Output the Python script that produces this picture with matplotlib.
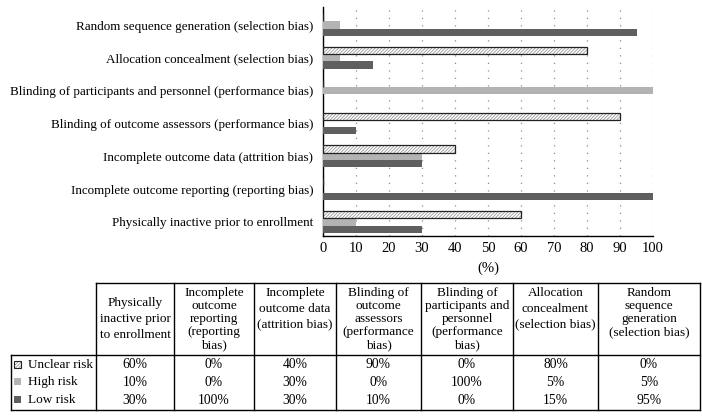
import matplotlib
matplotlib.use("Agg")
import matplotlib.pyplot as plt
from matplotlib.patches import Rectangle
import numpy as np

plt.rcParams['font.family'] = ['Liberation Serif', 'DejaVu Serif']
plt.rcParams['hatch.linewidth'] = 0.6

# ---- data (table order; chart draws bottom-to-top) ----
categories = [
    "Physically inactive prior to enrollment",
    "Incomplete outcome reporting (reporting bias)",
    "Incomplete outcome data (attrition bias)",
    "Blinding of outcome assessors (performance bias)",
    "Blinding of participants and personnel (performance bias)",
    "Allocation concealment (selection bias)",
    "Random sequence generation (selection bias)",
]
table_headers = [
    "Physically\ninactive prior\nto enrollment",
    "Incomplete\noutcome\nreporting\n(reporting\nbias)",
    "Incomplete\noutcome data\n(attrition bias)",
    "Blinding of\noutcome\nassessors\n(performance\nbias)",
    "Blinding of\nparticipants and\npersonnel\n(performance\nbias)",
    "Allocation\nconcealment\n(selection bias)",
    "Random\nsequence\ngeneration\n(selection bias)",
]
series_names = ["Unclear risk", "High risk", "Low risk"]
unclear = [60, 0, 40, 90, 0, 80, 0]
high = [10, 0, 30, 0, 100, 5, 5]
low = [30, 100, 30, 10, 0, 15, 95]
x_ticks = [0, 10, 20, 30, 40, 50, 60, 70, 80, 90, 100]

W, H = 702, 418
fig = plt.figure(figsize=(W / 100, H / 100), dpi=100)

# ---- bar chart ----
ax = fig.add_axes([323 / W, 1 - 236 / H, (653 - 323) / W, (236 - 7) / H])
y = np.arange(len(categories))
h = 0.22
HIGH_C = "#b3b3b3"
LOW_C = "#5f5f5f"
HATCH_C = "#9a9a9a"
ax.barh(y + h, unclear, height=h, color="white", edgecolor=HATCH_C,
        hatch="//////////", linewidth=0, zorder=3)
ax.barh(y + h, unclear, height=h, fill=False, edgecolor="#222222",
        linewidth=0.9, zorder=4)
ax.barh(y, high, height=h, color=HIGH_C, linewidth=0, zorder=3)
ax.barh(y - h, low, height=h, color=LOW_C, linewidth=0, zorder=3)

ax.set_xlim(0, 100)
ax.set_ylim(-0.43, 6.55)
ax.set_xticks(x_ticks)
ax.set_xticklabels([str(t) for t in x_ticks], fontsize=10.5)
ax.set_yticks(y)
ax.set_yticklabels(categories, fontsize=9.45)
ax.tick_params(axis="both", length=0)
ax.tick_params(axis="x", pad=4)
ax.tick_params(axis="y", pad=7)
for s in ["top", "right"]:
    ax.spines[s].set_visible(False)
for s in ["left", "bottom"]:
    ax.spines[s].set_color("black")
    ax.spines[s].set_linewidth(1.0)
ax.xaxis.grid(True, color="#8c8c8c", linestyle=(0, (1, 5)), linewidth=0.9, zorder=0)
ax.set_axisbelow(True)
ax.set_xlabel("(%)", fontsize=10.5, labelpad=5)

# ---- table drawn in pixel coordinates ----
tab = fig.add_axes([0, 0, 1, 1], zorder=-1)
tab.set_xlim(0, W)
tab.set_ylim(H, 0)
tab.axis("off")

cols = [11, 96, 174, 254, 336, 421, 513, 598, 700]
top, hdr_bot, bot = 283, 355, 410
lw = 1.0
tab.plot([cols[1], cols[-1]], [top, top], color="black", lw=lw)
tab.plot([cols[0], cols[-1]], [hdr_bot, hdr_bot], color="black", lw=lw)
tab.plot([cols[0], cols[-1]], [bot, bot], color="black", lw=lw)
tab.plot([cols[0], cols[0]], [hdr_bot, bot], color="black", lw=lw)
for cx in cols[1:]:
    tab.plot([cx, cx], [top, bot], color="black", lw=lw)

for i, txt in enumerate(table_headers):
    cx = (cols[i + 1] + cols[i + 2]) / 2
    lines = txt.split("\n")
    step = 15.8 if len(lines) == 3 else 13.0
    y0 = 303 if i == 0 else 293
    for k, line in enumerate(lines):
        tab.text(cx, y0 + k * step, line, ha="center", va="center", fontsize=9.5)

row_y = [365, 382, 400]
series_vals = [unclear, high, low]
for r, (name, vals) in enumerate(zip(series_names, series_vals)):
    yy = row_y[r]
    if r == 0:
        tab.add_patch(Rectangle((14, yy - 4), 7, 7, facecolor="white",
                                edgecolor=HATCH_C, hatch="//////////", lw=0))
        tab.add_patch(Rectangle((14, yy - 4), 7, 7, fill=False,
                                edgecolor="#222222", lw=0.8))
    else:
        tab.add_patch(Rectangle((14, yy - 4), 7, 7,
                                facecolor=HIGH_C if r == 1 else LOW_C, lw=0))
    tab.text(28, yy, name, ha="left", va="center", fontsize=9.5)
    for i, v in enumerate(vals):
        cx = (cols[i + 1] + cols[i + 2]) / 2
        tab.text(cx, yy, f"{v}%", ha="center", va="center", fontsize=9.8)

fig.savefig("out.png", dpi=100)
